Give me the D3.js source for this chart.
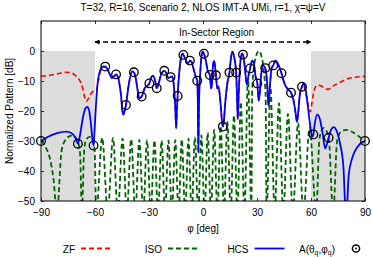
<!DOCTYPE html>
<html>
<head>
<meta charset="UTF-8">
<script src="https://d3js.org/d3.v7.min.js"></script>
<style>
  body { margin: 0; background: #fff; }
  svg { display: block; font-family: 'Liberation Sans', Arial, sans-serif; }
  .tick text { font-size: 10px; fill: #000; }
  .tick line { stroke: #000; stroke-width: 0.8; }
</style>
</head>
<body>
<svg width="373" height="257"></svg>
<script>
// angle [deg], level [dB]
const xTicks = [-90, -60, -30, 0, 30, 60, 90];
const yTicks = [-50, -40, -30, -20, -10, 0];

const hcs = [
  [-90,-30],[-86,-28.6],[-81,-27.4],[-76,-26.9],[-73,-27.4],[-71,-28.8],[-69.5,-30.9],
  [-68.3,-28],[-66.8,-22.5],[-65.4,-19.2],[-64.3,-18.6],[-63.3,-19.8],[-62.3,-24],[-61.4,-29.5],[-60.8,-31.5],
  [-60.2,-26],[-59.3,-16.5],[-58.3,-9.5],[-57,-6.3],[-55.6,-5.2],[-54.3,-5.2],
  [-52.5,-6.8],[-50.6,-9],[-49.3,-8.4],[-48.3,-7.8],[-47.1,-9],[-45.6,-14.5],[-44.4,-21.3],[-43.5,-19.8],[-42.8,-18],
  [-41.2,-11],[-39.3,-6.8],[-38.4,-7.1],[-37.4,-9],[-36.2,-13.5],[-35.3,-15.8],[-34.1,-15.2],
  [-32.2,-12.2],[-30.8,-11.6],[-29.8,-10.8],[-28.6,-8.6],[-27.6,-8.3],[-26.5,-10.2],[-25.7,-12.4],
  [-24.8,-11.2],[-23.2,-7.6],[-21.5,-6.6],[-20.3,-7.4],[-19.3,-9],[-18,-8.7],[-17.1,-8.5],[-16.2,-11.5],
  [-15.4,-19],[-14.9,-25.8],[-14.5,-19.5],[-14.1,-15],
  [-13.1,-6.5],[-12.1,-2],[-11.3,-0.9],[-10.9,-1.3],[-9.8,-2.6],[-8.6,-4.2],[-7.9,-3.8],[-7.3,-3.2],
  [-6.4,-3.6],[-5.3,-5.8],[-4.1,-8.5],[-3.2,-9.9],[-2.9,-16],[-2.6,-34],[-2.2,-17],[-1.5,-7],
  [-0.8,-1.8],[-0.2,-0.2],[0.5,-0.9],[1.5,-3],[2.7,-6.8],[3.8,-8],[4.5,-12.5],[5,-11],[5.6,-4.5],
  [6.2,-3.3],[7.2,-8.1],[7.9,-12.5],[8.6,-11.8],[9.6,-16.5],[10.5,-23],[11,-25.2],[11.4,-24.5],
  [12.4,-17],[13.6,-10.5],[14.7,-7.2],[15.6,-2],[16.4,-0.2],[17.3,-2],[18.4,-7.2],[18.9,-15],
  [19.3,-22.8],[19.8,-15],[20.7,-4],[21.6,-0.8],[22.2,-1.2],[23.2,-5.2],[24.3,-11.2],[25.2,-8.5],
  [26.2,-5.8],[27.3,-3.2],[28.2,-4],[29.2,-8.5],[30.2,-10.8],[30.9,-16.5],[31.5,-14.5],[32.4,-7.5],
  [33.4,-4.9],[34.6,-5.7],[35.6,-10.5],[36.4,-18.3],[37.2,-11.5],[38.1,-5.8],[39,-4.8],[40.4,-3.2],
  [41.6,-4.2],[43.6,-7.4],[45.5,-11.2],[47.2,-12.8],[48.9,-13.9],[50.3,-16.5],[51.4,-20.5],[52.2,-23.6],
  [52.9,-20.5],[53.9,-14],[55,-11.9],[55.8,-10.9],[57,-12.8],[58.4,-19.2],[59.7,-25.5],[60.6,-28.6],
  [61.3,-27.8],[62.1,-24.2],[63.5,-21.2],[64.8,-22.4],[66.3,-26.8],[67.9,-32.5],[68.6,-31.5],[69.8,-28.9],
  [71.2,-26.2],[72.6,-25.4],[74,-26.3],[76,-30.5],[78,-38.5],[79.5,-56],[81,-41],[83,-35.5],[86,-31.8],[90,-30]
];

// ZF outside the sector (inside it lies on top of HCS)
const zfLeft = [
  [-90,-8.4],[-85,-8.1],[-80,-7.5],[-76,-7.1],[-73,-7.3],[-70.5,-8.4],[-68.5,-9.8],[-67,-12],
  [-65.7,-15.5],[-64.8,-16.8],[-63.6,-15.8],[-62,-14],[-60.3,-13.3],[-59.3,-13.2],[-58.4,-10.8],
  [-57.3,-7.6],[-56.2,-5.6]
];
const zfRight = [
  [56.8,-13.5],[58.3,-17.5],[59.6,-20.3],[60.6,-17],[61.8,-13],[63.5,-11.4],[65.5,-11.6],[67.5,-12.4],
  [69.5,-12.8],[72,-11.8],[75,-10.8],[79,-9.6],[83,-8.9],[87,-8.6],[90,-8.5]
];

const iso = [
  [-90,-30],[-87.5,-32],[-85,-36],[-83,-43],[-81.2,-54],
  [-78.5,-33],[-76,-29.3],[-73,-28.2],[-70,-29.5],[-68.3,-34],[-67.3,-54],
  [-66,-33],[-64.8,-29.4],[-63,-28.6],[-61.2,-29.5],[-60.2,-33],[-59.3,-54],
  [-56,-28.9],[-52.9,-54],[-50,-29],[-47.3,-54],[-44.7,-29.2],[-42.3,-54],
  [-39.9,-29.4],[-37.6,-54],[-35.4,-29.6],[-33.2,-54],[-31.1,-29.7],[-29,-54],
  [-27,-29.8],[-25,-54],[-23,-29.8],[-21.1,-54],[-19.2,-29.8],[-17.3,-54],
  [-15.4,-29.7],[-13.6,-54],[-11.8,-29.5],[-9.9,-54],[-8.1,-29.2],[-6.3,-54],
  [-4.5,-28.8],[-2.7,-54],[-0.9,-28.1],[0.9,-54],[2.6,-27.2],[4.4,-54],
  [6.2,-26.2],[8,-54],[9.8,-25],[11.7,-54],[13.5,-23.6],[15.4,-54],
  [17.2,-21.5],[19.1,-54],[21,-17],[23,-54],[25,-9.2],[26.9,-54],
  [27.3,-14],[28,-7],[29.2,-2.4],[31,0],[32.8,-2.5],[34,-8],[34.8,-15],[35.3,-54],
  [37.5,-12.2],[39.8,-54],[42.2,-17.4],[44.6,-54],[47.2,-21],[49.9,-54],
  [52.8,-24],[55.8,-54],[59.2,-25.6],[62.9,-54],
  [64.6,-30],[65.8,-26.5],[67.1,-25.6],[68.5,-26.5],[70,-30],[72.3,-54],
  [74.5,-30],[76.5,-27],[79.5,-26.3],[83,-27],[86.5,-28.4],[90,-30]
];

const samples = [
  [-90,-30],[-69.5,-30.9],[-60.8,-31.5],[-54.3,-5.2],[-48.3,-7.8],[-42.8,-18],[-38.4,-7.1],
  [-34.1,-15.2],[-29.8,-10.8],[-25.7,-12.4],[-21.5,-6.6],[-18,-8.7],[-14.1,-15],[-10.9,-1.3],
  [-7.3,-3.2],[-3.2,-9.9],[0.5,-0.9],[3.8,-8],[7.2,-8.1],[11,-25.2],[14.7,-7.2],[18.4,-7.2],
  [22.2,-1.2],[26.2,-5.8],[30.2,-10.8],[34.6,-5.7],[39,-4.8],[43.6,-7.4],[48.9,-13.9],[55,-11.9],
  [61.3,-27.8],[69.8,-28.9],[90,-30]
];

const zf = zfLeft.concat(hcs.filter(d => d[0] >= -55.6 && d[0] <= 55.8), zfRight);

const svg = d3.select('svg');
const x = d3.scaleLinear().domain([-90, 90]).range([41, 365]);
const y = d3.scaleLinear().domain([-50, 10]).range([201, 21]);

svg.append('clipPath').attr('id', 'plot')
  .append('rect').attr('x', 41).attr('y', 21).attr('width', 324).attr('height', 180);

// out-of-sector shading
[[-90, -60], [60, 90]].forEach(r => {
  svg.append('rect')
    .attr('x', x(r[0])).attr('y', y(0))
    .attr('width', x(r[1]) - x(r[0])).attr('height', y(-50) - y(0))
    .attr('fill', '#dcdcdc');
});

const line = d3.line().x(d => x(d[0])).y(d => y(d[1])).curve(d3.curveMonotoneX);
const plot = svg.append('g').attr('clip-path', 'url(#plot)');

plot.append('path').datum(zf).attr('d', line)
  .attr('fill', 'none').attr('stroke', '#ff0000').attr('stroke-width', 1.6)
  .attr('stroke-dasharray', '5,3');
plot.append('path').datum(iso).attr('d', line)
  .attr('fill', 'none').attr('stroke', '#006400').attr('stroke-width', 1.8)
  .attr('stroke-dasharray', '5,3');
plot.append('path').datum(hcs).attr('d', line)
  .attr('fill', 'none').attr('stroke', '#0000ff').attr('stroke-width', 1.8);

svg.append('g').selectAll('circle').data(samples).join('circle')
  .attr('cx', d => x(d[0])).attr('cy', d => y(d[1])).attr('r', 4.3)
  .attr('fill', 'none').attr('stroke', '#000').attr('stroke-width', 1.3);

// axes, ticks inward on all four sides
svg.append('g').attr('transform', 'translate(0,201)')
  .call(d3.axisBottom(x).tickValues(xTicks).tickSize(-3).tickPadding(7.5))
  .call(g => g.select('.domain').remove());
svg.append('g').attr('transform', 'translate(0,21)')
  .call(d3.axisTop(x).tickValues(xTicks).tickSize(-3).tickFormat(''))
  .call(g => g.select('.domain').remove());
svg.append('g').attr('transform', 'translate(41,0)')
  .call(d3.axisLeft(y).tickValues(yTicks).tickSize(-3).tickPadding(6))
  .call(g => g.select('.domain').remove());
svg.append('g').attr('transform', 'translate(365,0)')
  .call(d3.axisRight(y).tickValues(yTicks).tickSize(-3).tickFormat(''))
  .call(g => g.select('.domain').remove());

svg.append('rect').attr('x', 41).attr('y', 21).attr('width', 324).attr('height', 180)
  .attr('fill', 'none').attr('stroke', '#000').attr('stroke-width', 1);

// in-sector arrow
const defs = svg.append('defs');
defs.append('marker').attr('id', 'ah').attr('viewBox', '0 0 10 10')
  .attr('refX', 9).attr('refY', 5).attr('markerWidth', 6).attr('markerHeight', 5)
  .attr('markerUnits', 'userSpaceOnUse').attr('orient', 'auto-start-reverse')
  .append('path').attr('d', 'M0,0L10,5L0,10Z').attr('fill', '#000');
svg.append('line')
  .attr('x1', x(-60)).attr('x2', x(60)).attr('y1', 42).attr('y2', 42)
  .attr('stroke', '#000').attr('stroke-width', 1.3).attr('stroke-dasharray', '5,3')
  .attr('marker-start', 'url(#ah)').attr('marker-end', 'url(#ah)');
svg.append('text').attr('x', x(7.5)).attr('y', 36).attr('text-anchor', 'middle')
  .attr('font-size', 10).text('In-Sector Region');

// titles
svg.append('text').attr('x', 203).attr('y', 10.5).attr('text-anchor', 'middle')
  .attr('font-size', 10).text('T=32, R=16, Scenario 2, NLOS IMT-A UMi, r=1, \u03c7=\u03c8=V');
svg.append('text').attr('transform', 'translate(13,111) rotate(-90)').attr('text-anchor', 'middle')
  .attr('font-size', 10).text('Normalized Pattern [dB]');
svg.append('text').attr('x', 203).attr('y', 232).attr('text-anchor', 'middle')
  .attr('font-size', 10).text('\u03c6 [deg]');

// legend
const ly = 248.5;
const legend = [
  { label: 'ZF', color: '#ff0000', dash: '5,3', end: 75 },
  { label: 'ISO', color: '#006400', dash: '5,3', end: 162 },
  { label: 'HCS', color: '#0000ff', dash: null, end: 248.5 }
];
legend.forEach(l => {
  svg.append('text').attr('x', l.end).attr('y', ly + 4).attr('text-anchor', 'end')
    .attr('font-size', 10).text(l.label);
  svg.append('line').attr('x1', l.end + 6).attr('x2', l.end + 36).attr('y1', ly).attr('y2', ly)
    .attr('stroke', l.color).attr('stroke-width', 1.8)
    .attr('stroke-dasharray', l.dash);
});
const at = svg.append('text').attr('x', 335).attr('y', ly + 4).attr('text-anchor', 'end')
  .attr('font-size', 10);
at.append('tspan').text('A(\u03b8');
at.append('tspan').attr('font-size', 7).attr('dy', 2.5).text('q');
at.append('tspan').attr('dy', -2.5).text(',\u03c6');
at.append('tspan').attr('font-size', 7).attr('dy', 2.5).text('q');
at.append('tspan').attr('dy', -2.5).text(')');
svg.append('circle').attr('cx', 356).attr('cy', ly).attr('r', 3.6)
  .attr('fill', 'none').attr('stroke', '#000').attr('stroke-width', 1.5);
svg.append('circle').attr('cx', 356).attr('cy', ly).attr('r', 0.9).attr('fill', '#000');
</script>
</body>
</html>
